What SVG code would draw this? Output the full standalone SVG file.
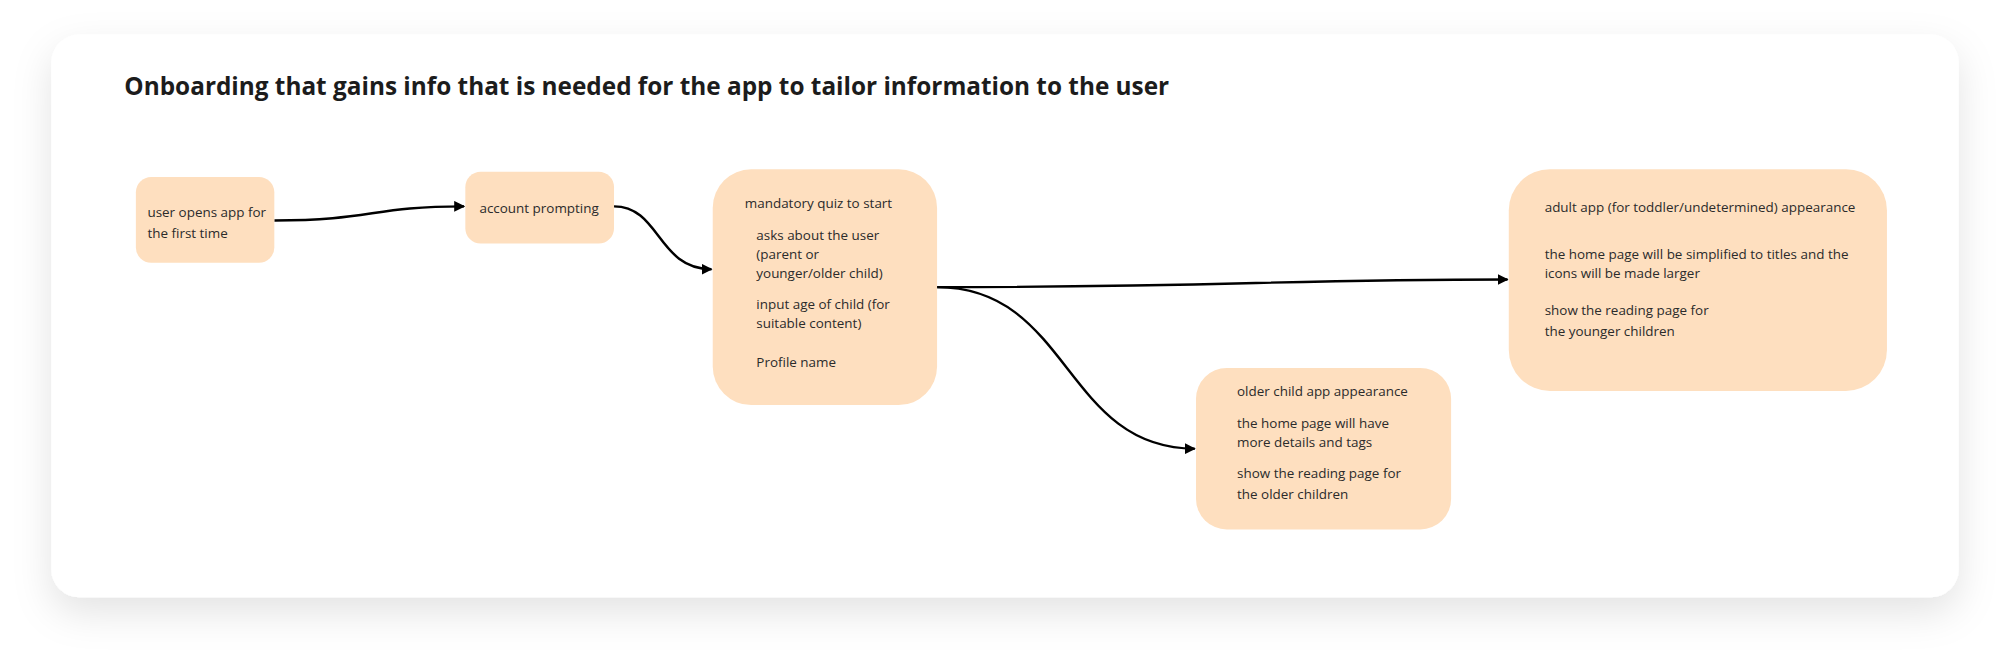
<svg xmlns="http://www.w3.org/2000/svg" width="2010" height="667" viewBox="0 0 2010 667">
  <defs>
    <filter id="shadow" x="-10%" y="-20%" width="120%" height="160%">
      <feDropShadow dx="0" dy="12" stdDeviation="15" flood-color="#000" flood-opacity="0.11"/>
    </filter>
    <marker id="arrow" viewBox="0 0 10 10" refX="9" refY="5" markerWidth="4.5" markerHeight="4.5" markerUnits="strokeWidth" orient="auto">
      <path d="M0,0 L10,5 L0,10 z" fill="#000"/>
    </marker>
  </defs>
  <style>
    .node { fill: #FEDFBF; }
    .t { font-family: "Open Sans", "Noto Sans", "Liberation Sans", sans-serif; font-size: 10.5px; fill: #2b2b2b; }
    .title { font-family: "Open Sans", "Noto Sans", "Liberation Sans", sans-serif; font-size: 19px; font-weight: 700; fill: #1c1c1c; }
    .edge { fill: none; stroke: #000; stroke-width: 1.9; marker-end: url(#arrow); }
  </style>
  <rect width="2010" height="667" fill="#ffffff"/>
  <g transform="scale(1.28189)">
    <rect id="card" x="40" y="27" width="1488" height="439" rx="22" fill="#ffffff" filter="url(#shadow)"/>
    <text class="title" x="97" y="74">Onboarding that gains info that is needed for the app to tailor information to the user</text>

    <g id="connectors">
      <path class="edge" d="M214,172 C290,172 290,161 362,161"/>
      <path class="edge" d="M479,161 C515,161 513,210 555,210"/>
      <path class="edge" d="M731,224 C950,224 1000,218 1176,218"/>
      <path class="edge" d="M731,224 C835,224 830,350 932,350"/>
    </g>

    <g id="node-open-app">
      <rect class="node" x="106" y="138" width="108" height="67" rx="12"/>
      <text class="t" x="115" y="169">user opens app for</text>
      <text class="t" x="115" y="186">the first time</text>
    </g>

    <g id="node-account">
      <rect class="node" x="363" y="134" width="116" height="56" rx="12"/>
      <text class="t" x="374" y="166">account prompting</text>
    </g>

    <g id="node-quiz">
      <rect class="node" x="556" y="132" width="175" height="184" rx="30"/>
      <text class="t" x="581" y="162">mandatory quiz to start</text>
      <text class="t" x="590" y="187">asks about the user</text>
      <text class="t" x="590" y="202">(parent or</text>
      <text class="t" x="590" y="217">younger/older child)</text>
      <text class="t" x="590" y="241">input age of child (for</text>
      <text class="t" x="590" y="256">suitable content)</text>
      <text class="t" x="590" y="286">Profile name</text>
    </g>

    <g id="node-adult">
      <rect class="node" x="1177" y="132" width="295" height="173" rx="32"/>
      <text class="t" x="1205" y="165">adult app (for toddler/undetermined) appearance</text>
      <text class="t" x="1205" y="202">the home page will be simplified to titles and the</text>
      <text class="t" x="1205" y="217">icons will be made larger</text>
      <text class="t" x="1205" y="246">show the reading page for</text>
      <text class="t" x="1205" y="262">the younger children</text>
    </g>

    <g id="node-older">
      <rect class="node" x="933" y="287" width="199" height="126" rx="24"/>
      <text class="t" x="965" y="309">older child app appearance</text>
      <text class="t" x="965" y="334">the home page will have</text>
      <text class="t" x="965" y="349">more details and tags</text>
      <text class="t" x="965" y="373">show the reading page for</text>
      <text class="t" x="965" y="389">the older children</text>
    </g>
  </g>
</svg>
